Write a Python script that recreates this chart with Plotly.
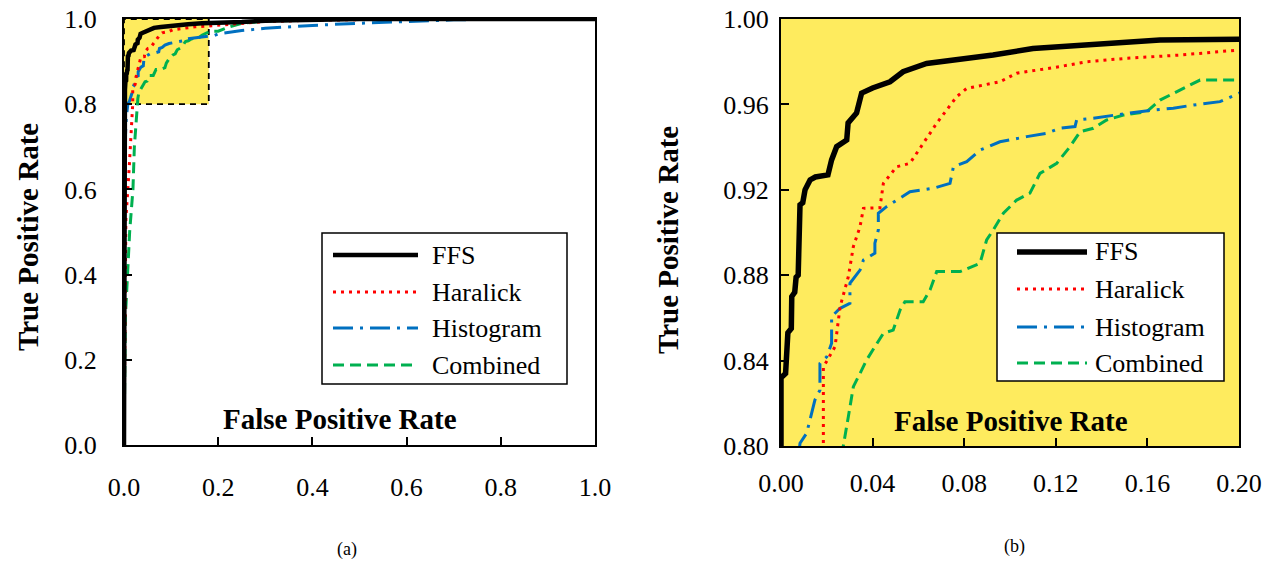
import plotly.graph_objects as go

# ---------------- data ----------------
series_names = ["FFS", "Haralick", "Histogram", "Combined"]

ffs_fpr = [0, 0, 0.002, 0.003, 0.0045, 0.0047, 0.006, 0.0066, 0.0075, 0.0083, 0.0095, 0.0105,
           0.0127, 0.015, 0.0205, 0.0221, 0.0243, 0.0287, 0.0293, 0.033, 0.0352, 0.040, 0.0476,
           0.0533, 0.0636, 0.0782, 0.0926, 0.110, 0.1362, 0.1655, 0.2, 0.25, 0.3, 0.4, 0.5, 1.0]
ffs_tpr = [0, 0.832, 0.834, 0.853, 0.855, 0.870, 0.872, 0.879, 0.880, 0.913, 0.914, 0.920,
           0.9246, 0.926, 0.927, 0.934, 0.9402, 0.9433, 0.9513, 0.956, 0.9653, 0.9677, 0.9706,
           0.9753, 0.9792, 0.9811, 0.9831, 0.9862, 0.9878, 0.9902, 0.9905, 0.993, 0.996, 0.998, 1.0, 1.0]

har_fpr = [0, 0.004, 0.004, 0.011, 0.0185, 0.0185, 0.020, 0.0236, 0.0258, 0.0294, 0.0316, 0.0345,
           0.036, 0.0432, 0.0447, 0.0505, 0.0563, 0.0621, 0.068, 0.0767, 0.0811, 0.0956, 0.1029,
           0.1218, 0.1335, 0.151, 0.1742, 0.2, 0.25, 0.3, 0.4, 0.5, 0.6, 1.0]
har_tpr = [0, 0.44, 0.53, 0.65, 0.80, 0.837, 0.840, 0.8465, 0.8652, 0.8793, 0.8934, 0.9027,
           0.9113, 0.9116, 0.923, 0.9308, 0.9324, 0.9418, 0.9512, 0.9636, 0.9675, 0.9706, 0.9746,
           0.9777, 0.980, 0.9816, 0.9831, 0.9855, 0.990, 0.994, 0.997, 0.999, 1.0, 1.0]

his_fpr = [0, 0.001, 0.002, 0.005, 0.0083, 0.0112, 0.0127, 0.0148, 0.017, 0.017, 0.020, 0.0221,
           0.0221, 0.0258, 0.0301, 0.0301, 0.0345, 0.036, 0.041, 0.041, 0.0425, 0.0425, 0.0461,
           0.0563, 0.0665, 0.0738, 0.0753, 0.0811, 0.0869, 0.0956, 0.1073, 0.116, 0.1218, 0.1284,
           0.1291, 0.1364, 0.151, 0.1626, 0.1713, 0.1801, 0.1917, 0.2, 0.25, 0.3, 0.4, 0.5, 0.6,
           0.7, 0.8, 1.0]
his_tpr = [0, 0.5, 0.7, 0.77, 0.8013, 0.806, 0.8122, 0.8215, 0.8262, 0.8387, 0.8418, 0.8481,
           0.8606, 0.8645, 0.8668, 0.8762, 0.8824, 0.8871, 0.8903, 0.895, 0.9012, 0.909, 0.9121,
           0.9191, 0.9207, 0.923, 0.9308, 0.9332, 0.9386, 0.9425, 0.9449, 0.9465, 0.9488, 0.9496,
           0.9527, 0.9535, 0.9558, 0.9574, 0.9582, 0.9597, 0.9613, 0.9652, 0.973, 0.978, 0.985,
           0.990, 0.994, 0.998, 1.0, 1.0]

com_fpr = [0, 0.003, 0.012, 0.016, 0.019, 0.022, 0.0272, 0.0294, 0.0316, 0.0345, 0.0374, 0.041,
           0.0447, 0.049, 0.052, 0.0541, 0.0621, 0.0651, 0.068, 0.0782, 0.0869, 0.0898, 0.0927,
           0.0971, 0.1029, 0.1087, 0.1131, 0.1204, 0.1262, 0.1306, 0.1364, 0.1422, 0.1495, 0.1597,
           0.1655, 0.1757, 0.183, 0.2, 0.22, 0.25, 0.3, 0.4, 0.5, 1.0]
com_tpr = [0, 0.3, 0.5, 0.55, 0.6, 0.7, 0.80, 0.8137, 0.8278, 0.834, 0.8403, 0.8465,
           0.8528, 0.8543, 0.8637, 0.8676, 0.8676, 0.8731, 0.8817, 0.8817, 0.8856, 0.8965, 0.9012,
           0.909, 0.9152, 0.9184, 0.9277, 0.9324, 0.9402, 0.9472, 0.9488, 0.9527, 0.955, 0.9566,
           0.962, 0.9675, 0.9714, 0.9714, 0.980, 0.990, 0.995, 0.998, 1.0, 1.0]

full_ticks = [0.0, 0.2, 0.4, 0.6, 0.8, 1.0]
zoom_x_ticks = [0.00, 0.04, 0.08, 0.12, 0.16, 0.20]
zoom_y_ticks = [0.80, 0.84, 0.88, 0.92, 0.96, 1.00]
zoom_x_range = [0.0, 0.2]
zoom_y_range = [0.8, 1.0]

# ---------------- styling ----------------
W, H = 1271, 563
FONT = "Liberation Serif"
YELLOW = "#FEEB5E"
styles = {
    "FFS": dict(color="black", dash="solid", w_left=4.5, w_right=5.5),
    "Haralick": dict(color="#FF0000", dash="3px,5px", w_left=3, w_right=3),
    "Histogram": dict(color="#0070C0", dash="20px,7px,3px,7px", w_left=3, w_right=3),
    "Combined": dict(color="#00B050", dash="11px,6px", w_left=3, w_right=3),
}
data = {
    "FFS": (ffs_fpr, ffs_tpr),
    "Haralick": (har_fpr, har_tpr),
    "Histogram": (his_fpr, his_tpr),
    "Combined": (com_fpr, com_tpr),
}


def px(x):
    return x / W


def py(y):
    return 1 - y / H


fig = go.Figure()
draw_order = ["Combined", "Histogram", "Haralick", "FFS"]
for name in draw_order:
    xs, ys = data[name]
    st = styles[name]
    fig.add_trace(go.Scatter(x=xs, y=ys, mode="lines", name=name, showlegend=False,
                             line=dict(color=st["color"], dash=st["dash"], width=st["w_left"]),
                             xaxis="x", yaxis="y"))
    fig.add_trace(go.Scatter(x=xs, y=ys, mode="lines", name=name, showlegend=False,
                             line=dict(color=st["color"], dash=st["dash"], width=st["w_right"]),
                             xaxis="x2", yaxis="y2"))

axis_common = dict(showgrid=False, zeroline=False, showline=True, linecolor="black",
                   mirror=True, ticks="inside", ticklen=8, tickwidth=1.5, tickcolor="black",
                   automargin=False,
                   tickfont=dict(family=FONT, size=26, color="black"))

fig.update_layout(
    width=W, height=H, autosize=False,
    margin=dict(l=0, r=0, t=0, b=0, pad=0, autoexpand=False),
    showlegend=False,
    paper_bgcolor="white", plot_bgcolor="white",
    xaxis=dict(domain=[px(124), px(595)], range=[0, 1], tickvals=full_ticks,
               ticktext=[f"{v:.1f}" for v in full_ticks], linewidth=2,
               ticklabelstandoff=18, anchor="y", **axis_common),
    yaxis=dict(domain=[py(445), py(19)], range=[0, 1], tickvals=full_ticks,
               ticktext=[f"{v:.1f}" for v in full_ticks], linewidth=2,
               ticklabelstandoff=20, anchor="x", **axis_common),
    xaxis2=dict(domain=[px(781), px(1239)], range=zoom_x_range, tickvals=zoom_x_ticks,
                ticktext=[f"{v:.2f}" for v in zoom_x_ticks], linewidth=2,
                ticklabelstandoff=13, anchor="y2", **axis_common),
    yaxis2=dict(domain=[py(446), py(19)], range=zoom_y_range, tickvals=zoom_y_ticks,
                ticktext=[f"{v:.2f}" for v in zoom_y_ticks], linewidth=2,
                ticklabelstandoff=5, anchor="x2", **axis_common),
)

shapes = []
# yellow background of zoomed panel
shapes.append(dict(type="rect", xref="x2 domain", yref="y2 domain", x0=0, x1=1, y0=0, y1=1,
                   fillcolor=YELLOW, line=dict(width=0), layer="below"))
# zoom region marked on full panel
shapes.append(dict(type="rect", xref="x", yref="y", x0=zoom_x_range[0], x1=0.18,
                   y0=zoom_y_range[0], y1=zoom_y_range[1], fillcolor=YELLOW,
                   line=dict(color="black", width=1.8, dash="6px,5px"), layer="below"))

annotations = []
# legends
legend_boxes = [
    dict(x0=322, x1=567, y0=233, y1=384, lx0=333, lx1=418, tx=430, rows=[255, 292, 328, 365], side="left"),
    dict(x0=997, x1=1224, y0=233, y1=381, lx0=1017, lx1=1087, tx=1093, rows=[252, 289, 327, 363], side="right"),
]
for lb in legend_boxes:
    shapes.append(dict(type="rect", xref="paper", yref="paper", x0=px(lb["x0"]), x1=px(lb["x1"]),
                       y0=py(lb["y1"]), y1=py(lb["y0"]), fillcolor="white",
                       line=dict(color="black", width=1.5), layer="above"))
    for name, ry in zip(series_names, lb["rows"]):
        st = styles[name]
        w = st["w_right"] if lb["side"] == "right" else st["w_left"]
        shapes.append(dict(type="line", xref="paper", yref="paper", x0=px(lb["lx0"]), x1=px(lb["lx1"]),
                           y0=py(ry), y1=py(ry), layer="above",
                           line=dict(color=st["color"], width=w, dash=st["dash"])))
        annotations.append(dict(text=name, xref="paper", yref="paper", x=px(lb["tx"]), y=py(ry),
                                xanchor="left", yanchor="middle", showarrow=False,
                                font=dict(family=FONT, size=26, color="black")))

title_font = dict(family=FONT, size=29, color="black")
for (x, y) in [(28, 237), (668, 240)]:
    annotations.append(dict(text="<b>True Positive Rate</b>", xref="paper", yref="paper",
                            x=px(x), y=py(y), textangle=-90, showarrow=False,
                            xanchor="center", yanchor="middle", font=title_font))
for (x, y) in [(340, 419), (1011, 421)]:
    annotations.append(dict(text="<b>False Positive Rate</b>", xref="paper", yref="paper",
                            x=px(x), y=py(y), showarrow=False,
                            xanchor="center", yanchor="middle", font=title_font))
for (txt, x, y) in [("(a)", 347, 549), ("(b)", 1014, 546)]:
    annotations.append(dict(text=txt, xref="paper", yref="paper", x=px(x), y=py(y),
                            showarrow=False, xanchor="center", yanchor="middle",
                            font=dict(family=FONT, size=18, color="black")))

fig.update_layout(shapes=shapes, annotations=annotations)
fig.write_html(
    "out.html",
    config={"displayModeBar": False},
    post_script="document.body.style.margin='0';document.body.style.overflow='hidden';",
)
